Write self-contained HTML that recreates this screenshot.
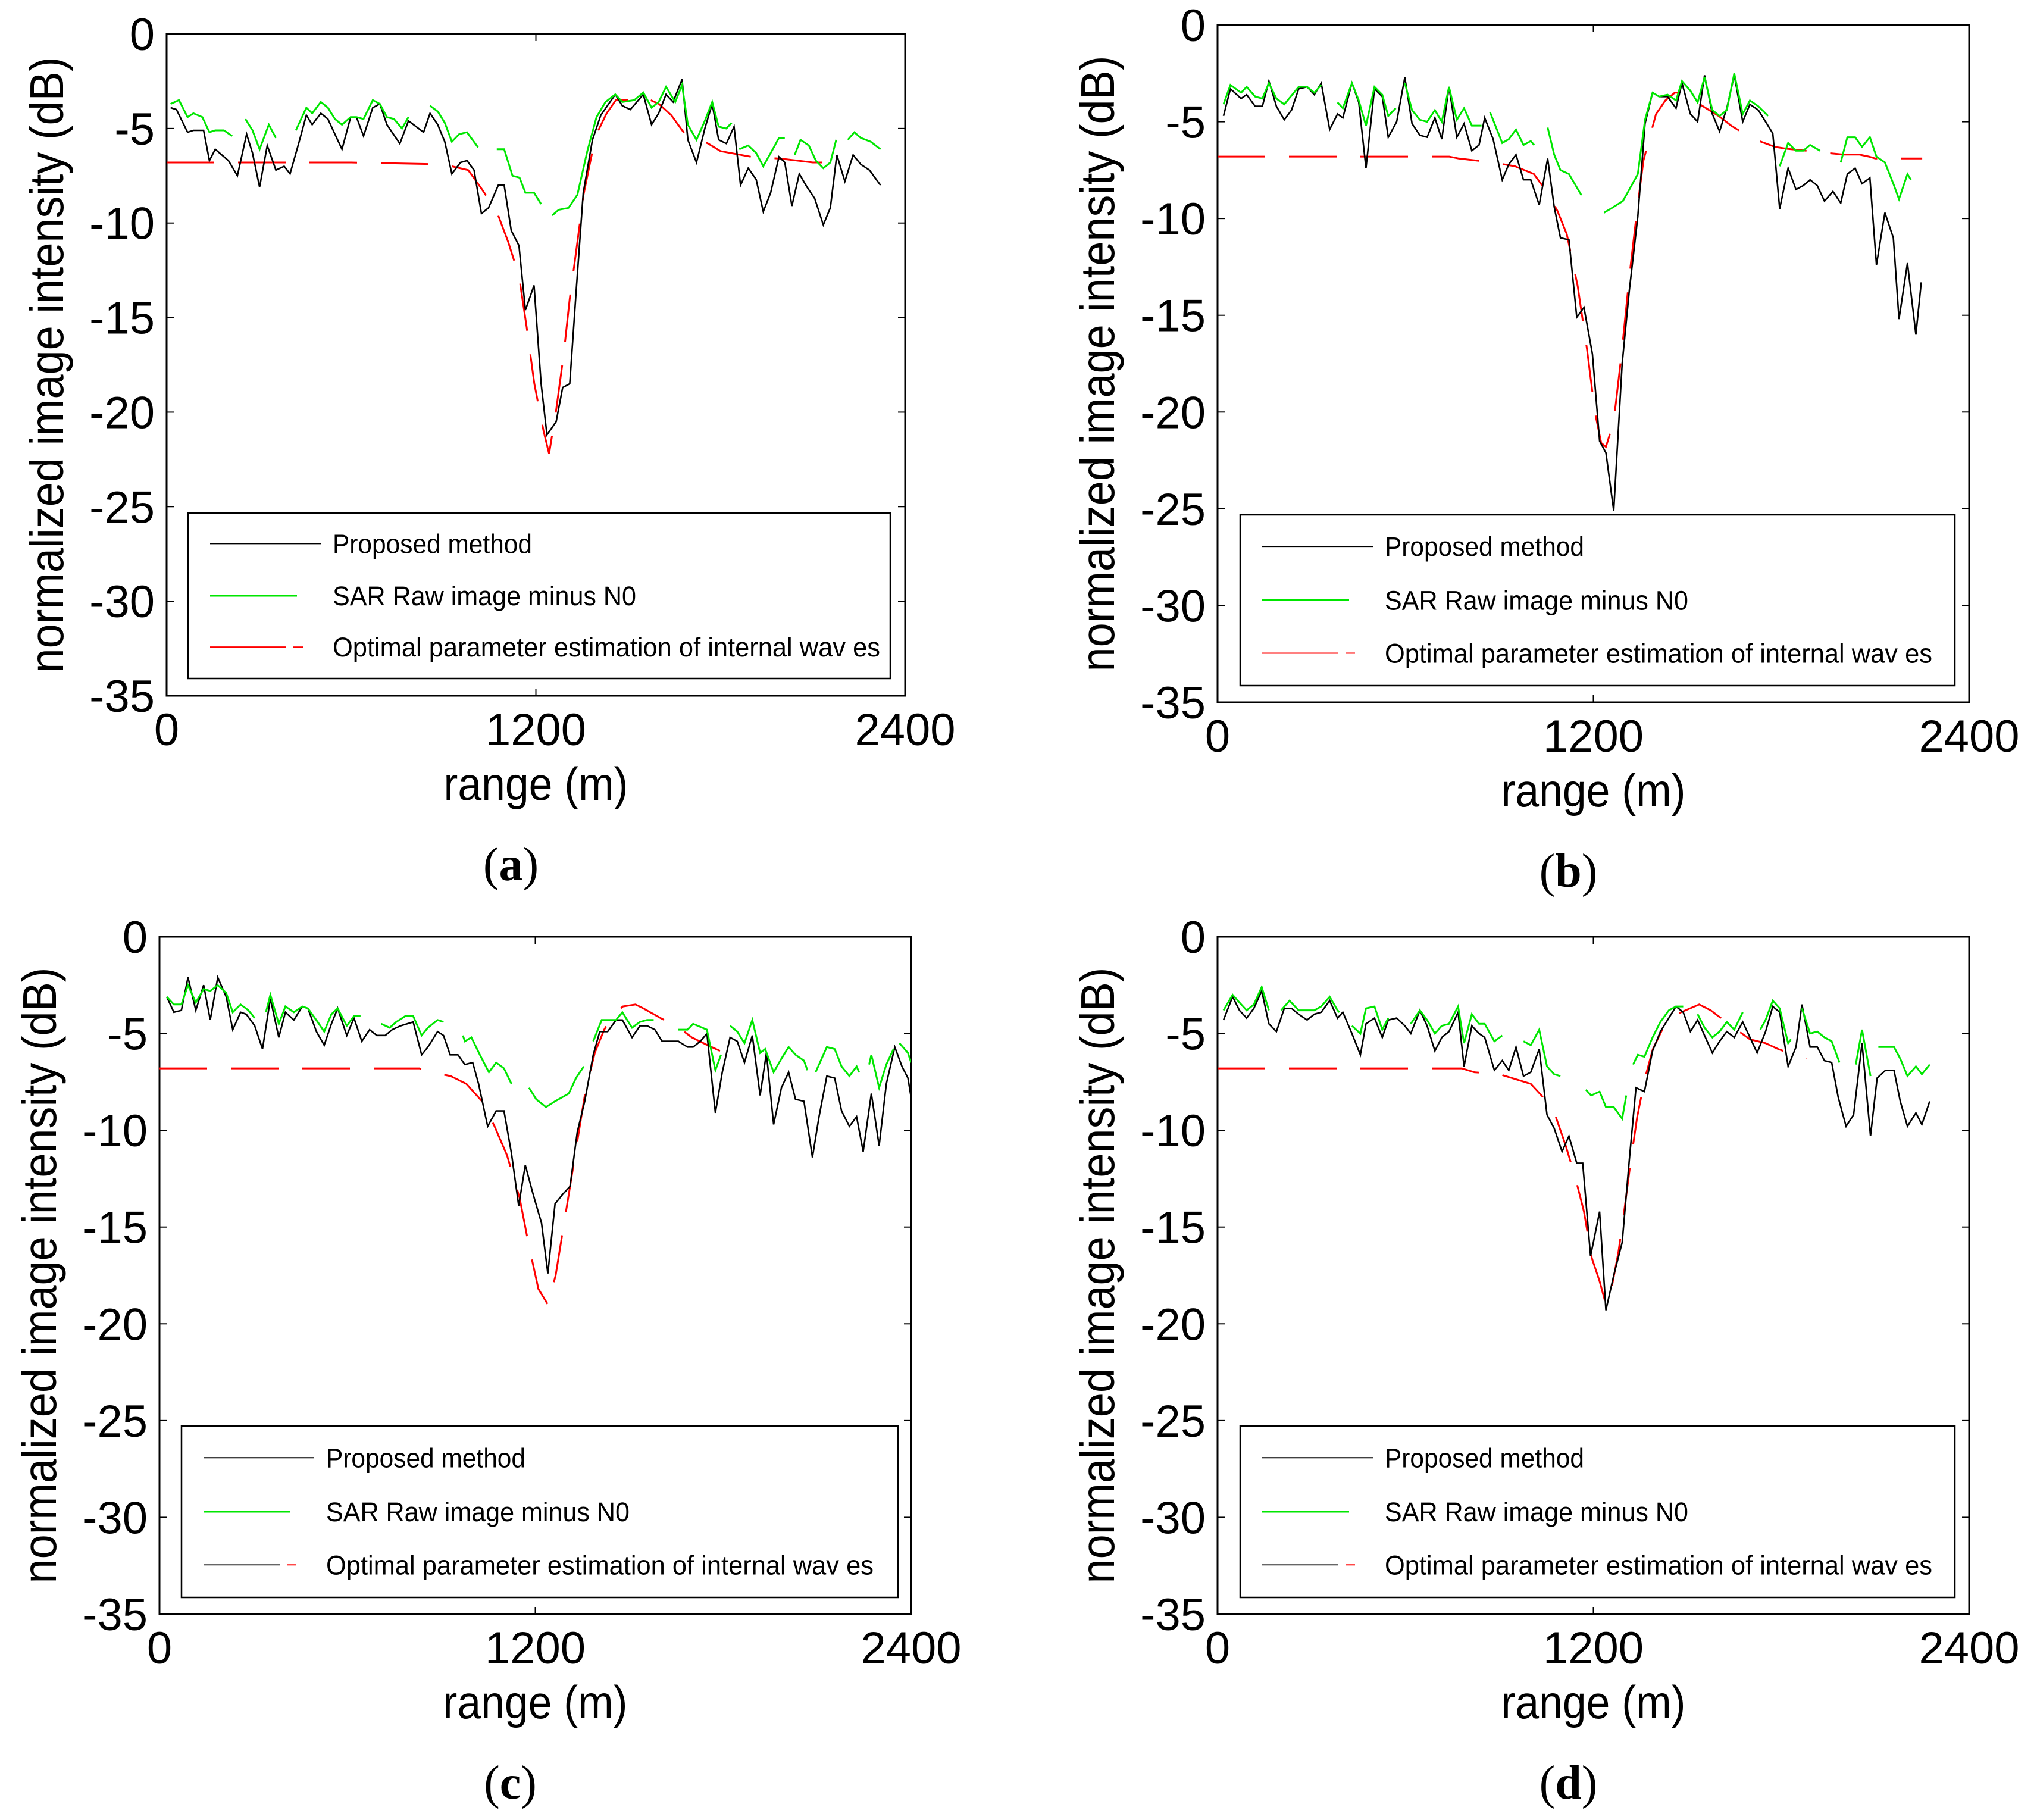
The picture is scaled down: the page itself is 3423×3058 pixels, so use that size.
<!DOCTYPE html>
<html><head><meta charset="utf-8"><style>
html,body{margin:0;padding:0;background:#fff;}
svg{display:block;}
</style></head><body>
<svg id="fig" xmlns="http://www.w3.org/2000/svg" width="3423" height="3058" viewBox="0 0 3423 3058">
<rect x="0" y="0" width="3423" height="3058" fill="#fff"/>
</svg>
<script>
// ---------- data (range in m, intensity in dB) ----------
const xTickLabels = ["0", "1200", "2400"];
const xTickValues = [0, 1200, 2400];
const yTickValues = [0, -5, -10, -15, -20, -25, -30, -35];
const yTickLabels = ["0", "-5", "-10", "-15", "-20", "-25", "-30", "-35"];
const legendLabels = ["Proposed method", "SAR Raw image minus N0", "Optimal parameter estimation of  internal wav es"];

// Panel (a)
const aBlackX = [13,32,68,87,120,139,158,201,230,260,279,302,327,355,382,401,429,454,473,501,524,547,570,598,617,640,670,693,716,758,786,835,856,881,904,927,955,976,999,1023,1046,1078,1097,1120,1145,1166,1194,1217,1236,1266,1287,1310,1331,1354,1384,1411,1458,1481,1507,1549,1576,1599,1623,1646,1675,1694,1722,1749,1773,1794,1819,1844,1865,1890,1916,1939,1963,1990,2009,2032,2056,2081,2106,2134,2157,2178,2204,2231,2256,2284,2320];
const aBlackY = [-3.9,-4.0,-5.2,-5.1,-5.1,-6.7,-6.1,-6.7,-7.5,-5.3,-6.3,-8.1,-5.9,-7.2,-7.0,-7.4,-5.8,-4.3,-4.8,-4.2,-4.5,-5.3,-6.1,-4.4,-4.4,-5.4,-3.9,-3.7,-4.8,-5.8,-4.6,-5.2,-4.2,-4.8,-5.7,-7.4,-6.8,-6.7,-7.2,-9.5,-9.2,-8.0,-8.0,-10.4,-11.2,-14.6,-13.3,-18.5,-21.2,-20.5,-18.7,-18.5,-13.6,-8.4,-5.6,-4.3,-3.2,-3.8,-4.0,-3.2,-4.8,-4.2,-3.2,-3.6,-2.4,-5.6,-6.8,-5.0,-3.7,-5.6,-5.8,-4.9,-8.0,-7.1,-7.7,-9.4,-8.4,-6.5,-6.8,-9.1,-7.4,-8.1,-8.7,-10.1,-9.2,-6.4,-7.8,-6.4,-6.9,-7.2,-8.0];
const aGreenX = [13,40,68,87,116,139,158,186,213,null,256,279,302,332,355,null,420,454,473,501,524,547,570,598,617,640,670,693,716,739,765,786,null,856,881,904,927,951,976,1012,null,1073,1097,1124,1147,1166,1194,1217,null,1253,1274,1306,1335,1367,1397,1426,1458,1481,1520,1549,1576,1599,1623,1653,1675,1694,1722,1749,1773,1794,1819,1836,null,1861,1890,1916,1939,1963,1990,2009,null,2041,2060,2087,2110,2134,2157,2176,null,2214,2235,2256,2288,2320];
const aGreenY = [-3.7,-3.5,-4.4,-4.2,-4.4,-5.2,-5.1,-5.1,-5.4,null,-4.5,-5.1,-6.1,-4.8,-5.5,null,-5.1,-3.9,-4.2,-3.6,-3.9,-4.5,-4.8,-4.4,-4.4,-4.5,-3.5,-3.7,-4.4,-4.5,-5.0,-4.4,null,-3.8,-4.1,-4.7,-5.7,-5.3,-5.2,-6.0,null,-6.1,-6.1,-7.5,-7.6,-8.4,-8.4,-9.0,null,-9.6,-9.3,-9.2,-8.5,-6.2,-4.4,-3.6,-3.2,-3.6,-3.5,-3.1,-3.9,-3.6,-2.8,-3.6,-2.7,-4.8,-5.6,-4.6,-3.6,-4.9,-5.0,-4.7,null,-6.1,-5.9,-6.3,-7.0,-6.3,-5.5,-5.5,null,-6.4,-5.6,-5.9,-6.7,-7.1,-6.8,-5.6,null,-5.6,-5.2,-5.5,-5.7,-6.1];
const aRedX = [0,300,600,900,980,1024,1073,1110,1145,1170,1195,1225,1243,1265,1290,1310,1335,1355,1380,1400,1430,1460,1500,1545,1600,1640,1680,1720,1760,1800,1900,2000,2100,2200];
const aRedY = [-6.8,-6.8,-6.8,-6.9,-7.2,-8.2,-9.4,-11.0,-12.8,-15.5,-18.5,-21.0,-22.2,-20.0,-17.0,-14.0,-11.0,-8.5,-6.5,-5.2,-4.2,-3.5,-3.5,-3.3,-3.7,-4.3,-5.2,-5.5,-5.8,-6.2,-6.5,-6.6,-6.8,-6.8];

// Panel (b)
const bBlackX = [19,41,75,93,120,143,164,188,213,236,259,286,309,331,358,383,400,429,451,474,501,526,545,572,598,621,646,669,694,716,739,764,787,812,835,853,880,909,930,953,977,1000,1027,1054,1075,1095,1122,1147,1170,1197,1220,1240,1265,1292,1315,1342,1365,1389,1410,1437,1464,1483,1510,1533,1555,1580,1603,1626,1650,1677,1700,1727,1773,1795,1822,1847,1870,1892,1915,1938,1965,1990,2011,2036,2058,2083,2104,2131,2158,2176,2203,2230,2247];
const bBlackY = [-4.7,-3.3,-3.8,-3.6,-4.2,-4.2,-2.9,-4.2,-4.9,-4.4,-3.3,-3.2,-3.6,-3.0,-5.4,-4.6,-4.8,-3.0,-4.0,-7.4,-3.3,-3.7,-5.8,-5.0,-2.7,-5.1,-5.7,-5.8,-4.8,-5.9,-3.2,-5.8,-5.1,-6.5,-6.2,-4.8,-5.9,-8.0,-7.2,-6.7,-8.0,-8.0,-9.3,-6.9,-9.4,-11.0,-11.1,-15.1,-14.6,-17.0,-21.5,-22.1,-25.1,-17.5,-13.7,-9.9,-5.1,-3.5,-3.7,-3.7,-4.3,-3.0,-4.6,-5.0,-2.6,-4.6,-5.5,-4.3,-2.6,-5.0,-4.1,-4.4,-5.6,-9.5,-7.4,-8.5,-8.3,-8.0,-8.3,-9.1,-8.6,-9.2,-7.7,-7.4,-8.2,-7.9,-12.4,-9.7,-11.0,-15.2,-12.3,-16.0,-13.3];
const bGreenX = [19,41,75,93,120,143,164,188,213,259,286,309,331,null,383,400,429,451,474,501,526,545,569,null,598,621,646,669,694,716,739,764,787,812,843,null,870,909,930,953,977,1000,1011,null,1054,1075,1095,1122,1162,null,1234,1255,1294,1315,1342,1365,1389,1410,1437,1464,1483,1510,1533,1555,1580,1603,1626,1650,1677,1700,1727,1758,null,1795,1822,1847,1870,1892,1924,null,1990,2011,2036,2058,2083,2104,2131,2158,2176,2203,2214];
const bGreenY = [-4.1,-3.1,-3.5,-3.2,-3.7,-3.8,-3.0,-3.8,-4.1,-3.2,-3.2,-3.5,-3.1,null,-4.0,-4.3,-3.0,-3.9,-5.2,-3.2,-3.6,-4.7,-4.3,null,-3.0,-4.4,-4.9,-5.0,-4.4,-5.0,-3.2,-4.9,-4.3,-5.2,-5.2,null,-4.5,-6.1,-5.9,-5.4,-6.2,-6.0,-6.2,null,-5.3,-6.7,-7.5,-7.7,-8.8,null,-9.7,-9.5,-9.1,-8.5,-7.7,-4.9,-3.5,-3.7,-3.6,-3.9,-2.9,-3.4,-4.0,-2.7,-4.4,-4.7,-4.4,-2.5,-4.6,-3.9,-4.2,-4.7,null,-7.3,-6.1,-6.5,-6.5,-6.2,-6.5,null,-7.1,-5.8,-5.8,-6.3,-5.8,-6.8,-7.1,-8.2,-9.0,-7.7,-8.0];
const bRedX = [0,300,600,740,770,880,950,1010,1050,1085,1115,1150,1180,1205,1225,1240,1265,1290,1315,1340,1360,1380,1400,1430,1460,1490,1520,1560,1600,1640,1680,1730,1780,1820,1880,1940,2000,2050,2080,2100,2250];
const bRedY = [-6.8,-6.8,-6.8,-6.8,-6.9,-7.1,-7.3,-7.7,-8.6,-9.6,-10.8,-13.5,-16.8,-20.0,-21.6,-21.8,-20.5,-17.0,-13.0,-9.5,-7.0,-5.8,-4.6,-3.9,-3.5,-3.5,-3.9,-4.3,-4.7,-5.2,-5.6,-6.0,-6.3,-6.4,-6.5,-6.6,-6.7,-6.7,-6.8,-6.9,-6.9];

// Panel (c)
const cBlackX = [23,46,70,91,116,141,162,186,213,234,259,277,304,329,354,381,402,429,456,474,501,526,549,569,598,621,646,671,694,721,743,770,810,837,857,888,907,928,953,975,1000,1019,1048,1075,1100,1124,1147,1168,1193,1220,1240,1263,1288,1311,1334,1358,1385,1406,1431,1458,1478,1509,1534,1557,1582,1605,1657,1686,1704,1727,1748,1775,1797,1822,1845,1868,1893,1918,1938,1961,1986,2009,2031,2058,2085,2106,2131,2156,2178,2203,2226,2247,2273,2298,2321,2348,2371,2390,2400];
const cBlackY = [-3.1,-3.9,-3.8,-2.1,-3.8,-2.5,-4.3,-2.1,-3.1,-4.8,-3.9,-4.0,-4.6,-5.8,-3.2,-5.2,-3.9,-4.3,-3.6,-3.7,-4.9,-5.6,-4.5,-3.7,-5.1,-4.2,-5.4,-4.8,-5.1,-5.1,-4.8,-4.6,-4.4,-6.1,-5.7,-4.9,-5.1,-6.1,-6.1,-6.6,-6.5,-7.6,-9.8,-9.0,-9.0,-11.2,-13.9,-11.8,-13.3,-14.8,-17.4,-13.8,-13.3,-12.9,-10.1,-8.5,-6.1,-4.9,-4.9,-4.3,-4.3,-5.2,-4.6,-4.6,-4.8,-5.4,-5.4,-5.7,-5.7,-5.4,-5.0,-9.1,-7.0,-5.2,-5.4,-6.5,-5.1,-8.2,-6.0,-9.7,-7.8,-7.0,-8.4,-8.5,-11.4,-9.3,-7.2,-7.3,-9.0,-9.8,-9.3,-11.1,-8.1,-10.8,-7.6,-5.7,-6.7,-7.3,-8.3];
const cGreenX = [23,46,70,91,116,141,162,186,213,234,259,284,304,null,340,354,381,402,429,456,474,505,526,549,569,598,621,642,null,708,735,756,785,810,837,857,888,907,null,969,975,996,1023,1052,1075,1100,1124,null,1180,1203,1234,1263,1307,1330,1355,null,1385,1412,1437,1458,1478,1509,1534,1557,1578,null,1657,1686,1704,1748,1775,1793,null,1822,1845,1868,1893,1918,1934,1961,1986,2009,2031,2058,2069,null,2095,2131,2156,2178,2203,2226,2234,null,2266,2273,2298,2321,2344,null,2363,2390,2400];
const cGreenY = [-3.1,-3.5,-3.5,-2.5,-3.4,-2.7,-2.8,-2.5,-2.9,-3.9,-3.5,-3.8,-4.2,null,-3.9,-3.0,-4.5,-3.6,-3.9,-3.6,-3.7,-4.4,-4.9,-4.0,-3.7,-4.6,-4.1,-4.1,null,-4.5,-4.7,-4.4,-4.1,-4.1,-5.1,-4.7,-4.3,-4.4,null,-5.1,-5.4,-5.2,-6.1,-7.0,-6.5,-6.8,-7.6,null,-7.8,-8.4,-8.8,-8.5,-8.1,-7.3,-6.7,null,-5.4,-4.3,-4.3,-4.3,-3.9,-4.7,-4.4,-4.3,-4.3,null,-4.8,-4.8,-4.5,-4.8,-6.9,-6.1,null,-4.6,-4.9,-5.5,-4.3,-6.0,-5.8,-7.0,-6.3,-5.7,-6.1,-6.4,-6.9,null,-7.0,-5.7,-5.8,-6.7,-7.2,-6.7,-7.0,null,-6.6,-6.1,-7.8,-6.6,-5.8,null,-5.5,-6.0,-6.5];
const cRedX = [0,300,600,830,870,930,980,1030,1070,1110,1150,1180,1210,1240,1265,1285,1310,1335,1360,1390,1420,1450,1480,1520,1545,1600,1650,1700,1750,1790];
const cRedY = [-6.8,-6.8,-6.8,-6.8,-7.0,-7.2,-7.6,-8.5,-9.8,-11.3,-13.5,-16.0,-18.2,-19.0,-17.5,-15.5,-13.0,-10.5,-8.0,-6.0,-4.8,-4.0,-3.6,-3.5,-3.7,-4.2,-4.6,-5.2,-5.6,-5.9];

// Panel (d)
const dBlackX = [19,48,70,93,116,141,164,188,213,236,259,286,309,331,358,383,400,429,456,474,501,526,545,572,598,617,646,669,694,716,739,768,787,812,835,853,884,909,930,953,977,1000,1027,1052,1075,1100,1122,1147,1166,1191,1220,1240,1265,1292,1315,1336,1363,1389,1414,1441,1464,1487,1510,1533,1555,1580,1603,1626,1650,1677,1700,1723,1750,1773,1795,1822,1847,1866,1892,1915,1938,1961,1982,2007,2031,2058,2085,2106,2133,2160,2180,2203,2230,2249,2274];
const dBlackY = [-4.3,-3.1,-3.8,-4.2,-3.7,-2.8,-4.5,-4.9,-3.7,-3.7,-4.0,-4.3,-4.0,-3.9,-3.3,-4.2,-3.9,-5.0,-6.1,-4.5,-4.2,-5.2,-4.3,-4.2,-4.6,-5.0,-3.8,-4.6,-5.9,-5.2,-4.9,-3.9,-6.7,-4.6,-5.0,-5.2,-6.9,-6.4,-6.9,-5.7,-7.2,-7.0,-5.8,-9.2,-9.9,-11.1,-10.3,-11.7,-11.7,-16.5,-14.2,-19.3,-17.5,-15.8,-11.5,-7.8,-8.0,-5.9,-4.9,-4.2,-3.6,-3.9,-4.9,-4.3,-5.1,-6.0,-5.4,-4.9,-5.2,-4.4,-5.2,-6.0,-4.9,-3.6,-3.9,-6.7,-5.7,-3.5,-5.7,-5.7,-6.4,-6.5,-8.3,-9.8,-9.2,-5.5,-10.3,-7.3,-6.9,-6.9,-8.5,-9.8,-9.1,-9.7,-8.5];
const dGreenX = [19,48,70,93,116,141,164,null,203,230,259,309,331,358,383,389,null,429,456,474,501,526,545,null,617,646,669,694,716,739,768,787,812,835,853,884,909,null,977,1000,1027,1052,1075,1095,null,1176,1193,1220,1240,1265,1292,1305,null,1327,1342,1363,1389,1414,1441,1464,1487,null,1533,1555,1580,1603,1626,1650,1677,null,1733,1750,1773,1795,1822,1831,null,1866,1892,1915,1938,1961,1986,null,2038,2058,2085,null,2110,2133,2160,2180,2203,2230,2249,2274];
const dGreenY = [-3.8,-3.0,-3.4,-3.8,-3.5,-2.6,-3.8,null,-3.8,-3.3,-3.8,-3.8,-3.6,-3.1,-3.8,-3.9,null,-4.6,-5.0,-3.7,-3.6,-4.8,-4.2,null,-4.5,-3.8,-4.3,-5.0,-4.6,-4.5,-3.6,-5.5,-4.0,-4.5,-4.5,-5.4,-5.1,null,-5.4,-5.6,-4.8,-6.7,-7.1,-7.2,null,-7.9,-8.2,-8.0,-8.8,-8.8,-9.4,-8.2,null,-6.6,-6.1,-6.2,-5.2,-4.4,-3.8,-3.6,-3.6,null,-4.0,-4.7,-5.2,-4.9,-4.4,-4.8,-3.9,null,-4.8,-4.3,-3.3,-3.7,-5.5,-5.3,null,-3.7,-5.0,-4.9,-5.2,-5.4,-6.5,null,-6.6,-4.8,-7.2,null,-5.7,-5.7,-5.7,-6.3,-7.2,-6.7,-7.1,-6.6];
const dRedX = [0,300,600,780,820,900,960,1000,1040,1080,1110,1140,1170,1195,1220,1240,1260,1280,1300,1320,1340,1365,1390,1420,1450,1480,1538,1575,1640,1700,1750,1790,1840,1880];
const dRedY = [-6.8,-6.8,-6.8,-6.8,-7.0,-7.1,-7.4,-7.6,-8.3,-9.3,-10.7,-12.3,-14.2,-16.6,-17.8,-19.0,-18.0,-16.3,-14.0,-11.5,-9.3,-7.3,-5.8,-4.8,-4.2,-3.9,-3.5,-3.8,-4.6,-5.3,-5.5,-5.8,-6.1,-6.3];

// ---------- drawing ----------
const NS = "http://www.w3.org/2000/svg";
const svg = document.getElementById("fig");
const FONT = '"Liberation Sans", Arial, sans-serif';

function mk(tag, attrs, parent) {
  const e = document.createElementNS(NS, tag);
  for (const k in attrs) e.setAttribute(k, attrs[k]);
  (parent || svg).appendChild(e);
  return e;
}

const panels = [
  {id:"a", L:280, R:1521, T:57, B:1169, lg:[316,862,1496,1140], legendFirst:"#ff0000",
   bx:aBlackX, by:aBlackY, gx:aGreenX, gy:aGreenY, rx:aRedX, ry:aRedY},
  {id:"b", L:2046, R:3309, T:42, B:1180, lg:[2084,865,3285,1152], legendFirst:"#ff0000",
   bx:bBlackX, by:bBlackY, gx:bGreenX, gy:bGreenY, rx:bRedX, ry:bRedY},
  {id:"c", L:268, R:1531, T:1574, B:2712, lg:[305,2396,1509,2684], legendFirst:"#333333",
   bx:cBlackX, by:cBlackY, gx:cGreenX, gy:cGreenY, rx:cRedX, ry:cRedY},
  {id:"d", L:2046, R:3309, T:1574, B:2712, lg:[2084,2396,3285,2684], legendFirst:"#333333",
   bx:dBlackX, by:dBlackY, gx:dGreenX, gy:dGreenY, rx:dRedX, ry:dRedY}
];

function pathFrom(xs, ys, sx, sy) {
  let d = "", pen = false;
  for (let i = 0; i < xs.length; i++) {
    if (xs[i] === null || ys[i] === null) { pen = false; continue; }
    d += (pen ? "L" : "M") + sx(xs[i]).toFixed(1) + "," + sy(ys[i]).toFixed(1);
    pen = true;
  }
  return d;
}

panels.forEach(p => {
  const g = mk("g", {});
  
  
  const sx = v => p.L + (v - 0) / 2400 * (p.R - p.L);
  const sy = v => p.T + (0 - v) / 35 * (p.B - p.T);

  const box = mk("rect", {x:p.L, y:p.T, width:p.R-p.L, height:p.B-p.T, fill:"none", stroke:"#000", "stroke-width":3}, g);
  
  

  yTickValues.forEach((v, i) => {
    const y = sy(v);
    mk("line", {x1:p.L, y1:y, x2:p.L+12, y2:y, stroke:"#000", "stroke-width":2}, g);
    mk("line", {x1:p.R, y1:y, x2:p.R-12, y2:y, stroke:"#000", "stroke-width":2}, g);
    const t = mk("text", {x:p.L-20, y:y+27, "text-anchor":"end", "font-family":FONT, "font-size":76, fill:"#000"}, g);
    t.textContent = yTickLabels[i];
    
    
  });
  xTickValues.forEach((v, i) => {
    const x = sx(v);
    if (v > 0 && v < 2400) {
      mk("line", {x1:x, y1:p.B, x2:x, y2:p.B-12, stroke:"#000", "stroke-width":2}, g);
      mk("line", {x1:x, y1:p.T, x2:x, y2:p.T+12, stroke:"#000", "stroke-width":2}, g);
    }
    const t = mk("text", {x:x, y:p.B+83, "text-anchor":"middle", "font-family":FONT, "font-size":76, fill:"#000"}, g);
    t.textContent = xTickLabels[i];
    
    
  });

  const cx = (p.L + p.R) / 2, cy = (p.T + p.B) / 2;
  const xt = mk("text", {x:cx, y:p.B+175, "text-anchor":"middle", "font-family":FONT, "font-size":78, fill:"#000", textLength:310, lengthAdjust:"spacingAndGlyphs"}, g);
  xt.textContent = "range (m)";
  
  
  const yx = p.L - 174;
  const yt = mk("text", {x:yx, y:cy, "text-anchor":"middle", "font-family":FONT, "font-size":80, fill:"#000", transform:"rotate(-90 "+yx+" "+cy+")", textLength:1035, lengthAdjust:"spacingAndGlyphs"}, g);
  yt.textContent = "normalized image intensity (dB)";
  
  

  const lt = mk("text", {x:cx-42, y:p.B+310, "text-anchor":"middle", "font-family":'"Liberation Serif", serif', "font-size":80, fill:"#000"}, g);
  lt.innerHTML = '(<tspan font-weight="bold">' + p.id + '</tspan>)';
  
  

  const clip = "clip-" + p.id;
  const cp = mk("clipPath", {id:clip}, g);
  mk("rect", {x:p.L, y:p.T, width:p.R-p.L, height:p.B-p.T}, cp);

  const rl = mk("path", {d:pathFrom(p.rx, p.ry, sx, sy), fill:"none", stroke:"#ff0000", "stroke-width":3, "stroke-dasharray":"80 40", "clip-path":"url(#"+clip+")"}, g);
  
  
  const bl = mk("path", {d:pathFrom(p.bx, p.by, sx, sy), fill:"none", stroke:"#000", "stroke-width":2.6, "clip-path":"url(#"+clip+")"}, g);
  
  
  const gl = mk("path", {d:pathFrom(p.gx, p.gy, sx, sy), fill:"none", stroke:"#00e600", "stroke-width":3, "clip-path":"url(#"+clip+")"}, g);
  
  

  const [x1, y1, x2, y2] = p.lg;
  const lgG = mk("g", {}, g);
  
  
  mk("rect", {x:x1, y:y1, width:x2-x1, height:y2-y1, fill:"#fff", stroke:"#000", "stroke-width":2.5}, lgG);
  const h = y2 - y1;
  const rows = [0.185, 0.5, 0.81].map(f => y1 + f * h);
  const ls = x1 + 37, tx = x1 + 243;
  mk("line", {x1:ls, y1:rows[0], x2:ls+186, y2:rows[0], stroke:"#000", "stroke-width":2}, lgG);
  mk("line", {x1:ls, y1:rows[1], x2:ls+146, y2:rows[1], stroke:"#00e600", "stroke-width":3}, lgG);
  mk("line", {x1:ls, y1:rows[2], x2:ls+128, y2:rows[2], stroke:p.legendFirst, "stroke-width":2}, lgG);
  mk("line", {x1:ls+140, y1:rows[2], x2:ls+156, y2:rows[2], stroke:"#ff0000", "stroke-width":2}, lgG);
  legendLabels.forEach((lab, i) => {
    const widths = [335, 510, 920];
    const t = mk("text", {x:tx, y:rows[i]+16, "font-family":FONT, "font-size":45, fill:"#000", textLength:widths[i], lengthAdjust:"spacingAndGlyphs"}, lgG);
    t.textContent = lab;
    
    
  });
});
</script>
</body></html>
